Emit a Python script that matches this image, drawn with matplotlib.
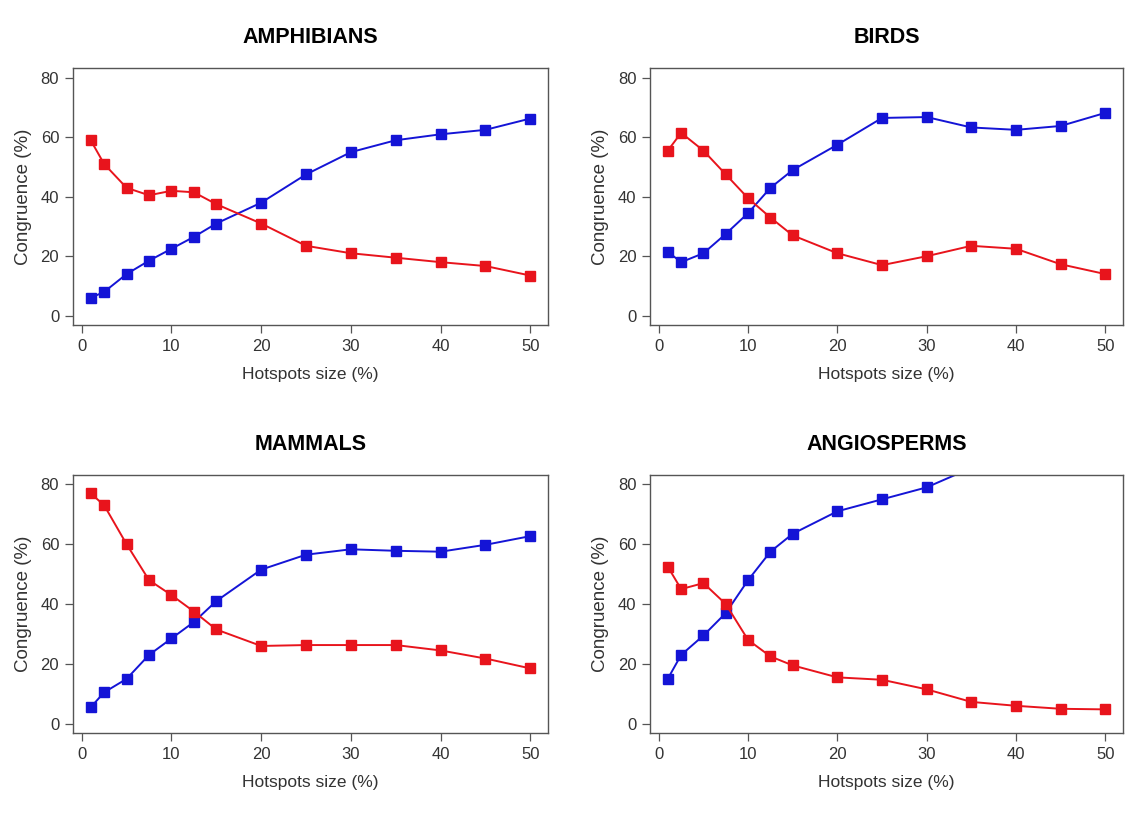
import matplotlib
matplotlib.use("Agg")
import matplotlib.pyplot as plt

plt.rcParams['font.family'] = ['Liberation Sans', 'DejaVu Sans']

# hotspot size (%) on the x axis, same for every panel
sizes = [1, 2.5, 5, 7.5, 10, 12.5, 15, 20, 25, 30, 35, 40, 45, 50]

titles = ['AMPHIBIANS', 'BIRDS', 'MAMMALS', 'ANGIOSPERMS']

amph_red = [59, 51, 43, 40.5, 42, 41.5, 37.5, 31, 23.5, 21, 19.5, 18, 16.7, 13.5]
amph_blue = [6, 8, 14, 18.5, 22.5, 26.5, 31, 38, 47.5, 55, 59, 61, 62.5, 66.3]

bird_red = [55.5, 61.5, 55.5, 47.5, 39.5, 33, 27, 21, 17, 20, 23.5, 22.5, 17.3, 14]
bird_blue = [21.5, 18, 21, 27.5, 34.5, 43, 49, 57.5, 66.5, 66.8, 63.3, 62.5, 63.8, 68.2]

mamm_red = [77, 73, 60, 48, 43, 37.5, 31.5, 26, 26.3, 26.3, 26.3, 24.5, 21.8, 18.5]
mamm_blue = [5.5, 10.5, 15, 23, 28.5, 34, 41, 51.5, 56.5, 58.3, 57.8, 57.5, 59.8, 62.7]

angio_red = [52.5, 45, 47, 40, 28, 22.5, 19.5, 15.5, 14.7, 11.5, 7.3, 6, 5, 4.8]
angio_blue = [15, 23, 29.5, 37, 48, 57.5, 63.5, 71, 75, 79, 85.5, 88, 90, 92]

reds = [amph_red, bird_red, mamm_red, angio_red]
blues = [amph_blue, bird_blue, mamm_blue, angio_blue]

RED = '#e8141c'
BLUE = '#1414d6'
GREY = '#555555'
TXT = '#333333'

fig = plt.figure(figsize=(11.25, 8.13), dpi=100)

# axes boxes in figure fractions: left, bottom, width, height
boxes = [
    [0.065, 0.600, 0.422, 0.316],
    [0.578, 0.600, 0.420, 0.316],
    [0.065, 0.098, 0.422, 0.318],
    [0.578, 0.098, 0.420, 0.318],
]

for box, title, red, blue in zip(boxes, titles, reds, blues):
    ax = fig.add_axes(box)
    ax.plot(sizes, blue, color=BLUE, lw=1.4, marker='s', ms=7,
            mfc=BLUE, mec=BLUE)
    ax.plot(sizes, red, color=RED, lw=1.4, marker='s', ms=7,
            mfc=RED, mec=RED)
    ax.set_xlim(-0.96, 51.96)
    ax.set_ylim(-3.2, 83.2)
    ax.set_xticks([0, 10, 20, 30, 40, 50])
    ax.set_yticks([0, 20, 40, 60, 80])
    for s in ax.spines.values():
        s.set_color(GREY)
        s.set_linewidth(1.0)
    ax.tick_params(direction='out', length=6, width=0.9, color=GREY,
                   labelsize=12, labelcolor=TXT, pad=4)
    ax.set_xlabel('Hotspots size (%)', fontsize=12.5, color=TXT, labelpad=9)
    ax.set_ylabel('Congruence (%)', fontsize=13.5, color=TXT, labelpad=6)
    ax.set_title(title, fontsize=15.5, fontweight='bold', pad=18)

fig.savefig('out.png', dpi=100)
